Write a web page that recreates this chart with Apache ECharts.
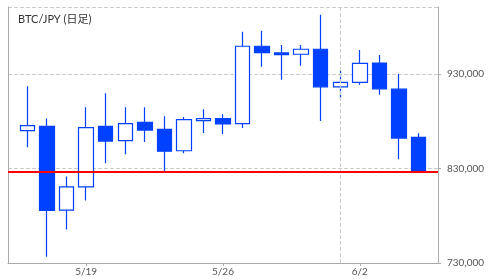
<!DOCTYPE html>
<html>
<head>
<meta charset="utf-8">
<script src="https://cdn.jsdelivr.net/npm/echarts@6/dist/echarts.min.js"></script>
<style>html,body{margin:0;padding:0;background:#fff;}#c{width:496px;height:279px;}</style>
</head>
<body>
<div id="c"></div>
<script>
const titleText = 'BTC/JPY (日足)';
const dates = ['5/15','5/16','5/17','5/18','5/19','5/20','5/21','5/22','5/23','5/24','5/25','5/26','5/27','5/28','5/29','5/30','5/31','6/1','6/2','6/3','6/4','6/5','6/6'];
const opens  = [null,870100,874681,786064,810532,874681,859468,878936,871489,848830,880745,882872,877553,959468,952340,950957,956277,916489,921170,941702,914043,862979,null];
const closes = [null,875424,785638,810532,873298,859043,877553,870745,848404,881809,882872,877128,959468,952660,950532,956277,916489,921170,941383,914362,862234,826277,null];
const lows   = [null,852660,736702,765426,796277,835638,845213,857979,826809,846277,867553,866489,872872,937766,923936,938830,880319,903723,918617,907979,839894,826277,null];
const highs  = [null,917234,882872,821489,894894,909787,894894,894894,885319,884574,892766,887447,974681,975745,960851,960851,992766,933191,955532,950213,930000,867234,null];
const tickLabels = ['5/19','5/26','6/2'];
const yTicks = [730000, 830000, 930000];
const lastPrice = 826277;
const monthStart = '6/1';

const candleData = dates.map((d, i) => opens[i] == null ? '-' : [opens[i], closes[i], lows[i], highs[i]]);
const showIdx = (idx, val) => tickLabels.indexOf(val) >= 0;
const blue = '#0040ff';

const chart = echarts.init(document.getElementById('c'), null, {renderer: 'canvas'});
chart.setOption({
  animation: false,
  backgroundColor: '#fff',
  title: {
    text: titleText, left: 13, top: 9,
    textStyle: {fontSize: 11, fontWeight: 'normal', color: '#333', fontFamily: 'Lato, "Noto Sans CJK JP", sans-serif'}
  },
  grid: {left: 8, right: 58, top: 7, bottom: 16},
  xAxis: {
    type: 'category', data: dates, boundaryGap: false,
    axisLine: {lineStyle: {color: '#aaa'}},
    axisTick: {show: true, interval: showIdx, length: 3, lineStyle: {color: '#aaa'}},
    axisLabel: {interval: showIdx, color: '#555', fontSize: 10, margin: 4, fontFamily: 'Lato, sans-serif'},
    splitLine: {show: false}
  },
  yAxis: [{
    type: 'value', position: 'right', min: yTicks[0], max: 1001000, interval: yTicks[1] - yTicks[0],
    axisLine: {show: true, lineStyle: {color: '#aaa'}},
    axisTick: {show: true, length: 3, lineStyle: {color: '#aaa'}},
    axisLabel: {showMaxLabel: false, color: '#555', fontSize: 10, margin: 9, fontFamily: 'Lato, sans-serif',
      formatter: v => v.toLocaleString('en-US')},
    splitLine: {show: true, lineStyle: {color: '#ccc', type: 'dashed'}}
  }, {
    type: 'value', position: 'left', min: yTicks[0], max: 1001000,
    axisLine: {show: true, lineStyle: {color: '#aaa'}},
    axisTick: {show: false}, axisLabel: {show: false}, splitLine: {show: false}
  }],
  series: [{
    type: 'candlestick', data: candleData, barWidth: 15,
    itemStyle: {color: '#fff', color0: blue, borderColor: blue, borderColor0: blue, borderWidth: 1.2},
    markLine: {
      silent: true, symbol: 'none', label: {show: false},
      data: [
        {xAxis: monthStart, lineStyle: {color: '#ccc', type: 'dashed', width: 1}},
        {yAxis: lastPrice, lineStyle: {color: '#ff0000', type: 'solid', width: 2}}
      ]
    }
  }]
});
</script>
</body>
</html>
